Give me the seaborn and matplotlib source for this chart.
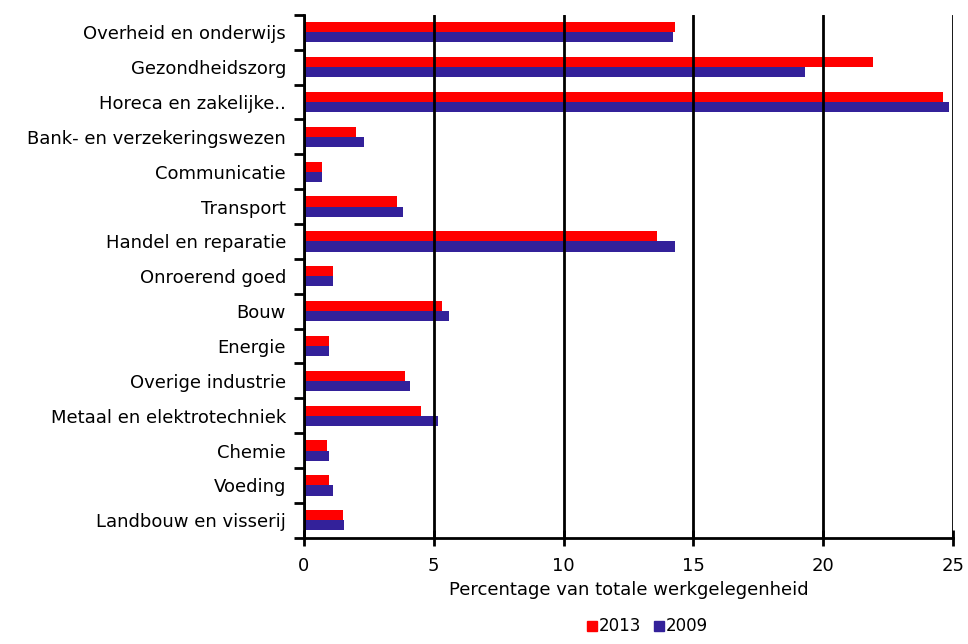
import matplotlib as mpl
mpl.use('agg')
import matplotlib.pyplot as plt
import seaborn as sns
import pandas as pd
from matplotlib.lines import Line2D

sectors = [
    'Overheid en onderwijs', 'Gezondheidszorg', 'Horeca en zakelijke..',
    'Bank- en verzekeringswezen', 'Communicatie', 'Transport',
    'Handel en reparatie', 'Onroerend goed', 'Bouw', 'Energie',
    'Overige industrie', 'Metaal en elektrotechniek', 'Chemie', 'Voeding',
    'Landbouw en visserij',
]
values_2013 = [14.3, 21.9, 24.6, 2.0, 0.7, 3.6, 13.6, 1.1, 5.3, 0.95,
               3.9, 4.5, 0.9, 0.95, 1.5]
values_2009 = [14.2, 19.3, 24.85, 2.3, 0.7, 3.8, 14.3, 1.1, 5.6, 0.95,
               4.1, 5.15, 0.95, 1.1, 1.55]
years = ['2013', '2009']
colors = {'2013': '#ff0000', '2009': '#33219a'}

df = pd.DataFrame({
    'sector': sectors * 2,
    'value': values_2013 + values_2009,
    'year': ['2013'] * len(sectors) + ['2009'] * len(sectors),
})

sns.set_style('white')
plt.rcParams['font.family'] = ['DejaVu Sans']
plt.rcParams['text.color'] = 'black'
plt.rcParams['xtick.color'] = 'black'
plt.rcParams['ytick.color'] = 'black'
plt.rcParams['axes.labelcolor'] = 'black'

fig = plt.figure(figsize=(9.68, 6.44), dpi=100)
ax = fig.add_axes([0.314, 0.165, 0.6705, 0.812])

sns.barplot(data=df, x='value', y='sector', hue='year', hue_order=years,
            order=sectors, palette=colors, saturation=1, orient='h',
            width=0.58, linewidth=0, legend=False, ax=ax)

ax.set_xlim(0, 25)
ax.set_ylim(len(sectors) - 0.5, -0.5)
ax.set_xticks([0, 5, 10, 15, 20, 25])
ax.set_ylabel('')
ax.set_xlabel('Percentage van totale werkgelegenheid', fontsize=13, labelpad=4)

ax.set_axisbelow(False)
ax.grid(axis='x', color='black', linewidth=2, zorder=5)
ax.grid(axis='y', visible=False)

for side in ['top', 'right']:
    ax.spines[side].set_visible(False)
for side in ['left', 'bottom']:
    ax.spines[side].set_color('black')
    ax.spines[side].set_linewidth(2)

ax.tick_params(axis='x', direction='inout', length=12, width=2,
               labelsize=13, pad=8, bottom=True)
ax.tick_params(axis='y', which='major', length=0, labelsize=13, pad=13)
ax.set_yticks([i + 0.5 for i in range(-1, len(sectors))], minor=True)
ax.tick_params(axis='y', which='minor', direction='out', length=7, width=2,
               left=True)

handles = [Line2D([], [], marker='s', linestyle='', markersize=7,
                  color=colors[y], label=y) for y in years]
fig.legend(handles=handles, loc='lower center', bbox_to_anchor=(0.668, -0.01),
           ncol=2, frameon=False, fontsize=12, handletextpad=0.0,
           columnspacing=0.7, handlelength=0.8)

fig.savefig('out.png', dpi=100)
